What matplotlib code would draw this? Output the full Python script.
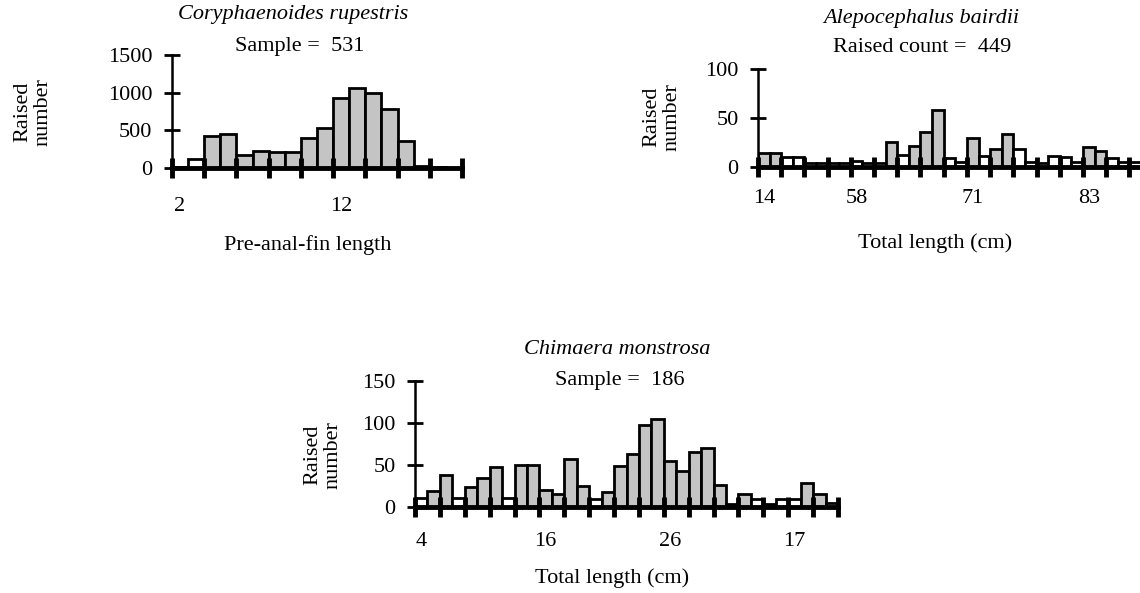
import matplotlib
matplotlib.use("Agg")
import matplotlib.pyplot as plt

W, H = 1140, 593

# Coryphaenoides rupestris
p1_values = [15, 120, 430, 445, 170, 230, 215, 215, 395, 535, 935, 1060, 990, 780, 355, 30, 10, 5]
p1_shade = [0, 0, 1, 1, 1, 1, 1, 1, 1, 1, 1, 1, 1, 1, 1, 0, 0, 0]
p1_labels = ["2", "12"]
p1_label_pos = [0, 10]
p1_yticks = [0, 500, 1000, 1500]

# Alepocephalus bairdii
p2_values = [14, 14, 10, 10, 4, 4, 4, 4, 6, 4, 4, 26, 12, 21, 36, 58, 9,
             5, 30, 11, 18, 34, 18, 5, 4, 11, 10, 5, 20, 16, 9, 5, 5]
p2_shade = [1, 1, 0, 0, 0, 0, 0, 0, 0, 0, 0, 1, 0, 1, 1, 1, 0,
            0, 1, 0, 1, 1, 0, 0, 0, 0, 0, 0, 1, 1, 0, 0, 0]
p2_labels = ["14", "58", "71", "83"]
p2_label_pos = [0, 8, 18, 28]
p2_yticks = [0, 50, 100]

# Chimaera monstrosa
p3_values = [11, 19, 38, 11, 24, 35, 48, 11, 50, 50, 20, 15, 57, 25, 10, 18, 49,
             63, 98, 105, 55, 43, 66, 70, 26, 4, 15, 10, 4, 10, 10, 29, 15, 5]
p3_shade = [0, 1, 1, 0, 1, 1, 1, 0, 1, 1, 1, 1, 1, 1, 0, 1, 1,
            1, 1, 1, 1, 1, 1, 1, 1, 0, 1, 0, 0, 0, 0, 1, 1, 0]
p3_labels = ["4", "16", "26", "17"]
p3_label_pos = [0, 10, 20, 30]
p3_yticks = [0, 50, 100, 150]

plt.rcParams['font.family'] = ['Liberation Serif', 'DejaVu Serif']
plt.rcParams['font.size'] = 16

fig = plt.figure(figsize=(W / 100, H / 100), dpi=100)


def px_axes(left, right, top, bottom):
    # pixel box -> figure fraction
    return fig.add_axes([left / W, 1 - bottom / H, (right - left) / W, (bottom - top) / H])


def ftext(x, y, s, **kw):
    fig.text(x / W, 1 - y / H, s, ha="center", va="center", **kw)


def panel(ax, values, shade, labels, label_pos, yticks, xpad):
    n = len(values)
    colors = ["#c4c4c4" if s else "white" for s in shade]
    ax.bar(range(n), values, width=1.0, align="edge", color=colors,
           edgecolor="black", linewidth=2)
    ax.set_xlim(0, n)
    ax.set_ylim(0, yticks[-1])
    ax.set_yticks(yticks)
    ax.set_xticks(range(0, n + 1, 2))
    ax.set_xticklabels([])
    ax.set_xticks([p + 0.5 for p in label_pos], labels, minor=True)
    ax.tick_params(axis="x", which="major", direction="inout", length=14, width=3.5)
    ax.tick_params(axis="x", which="minor", length=0, pad=xpad)
    ax.tick_params(axis="y", direction="inout", length=12, width=2, pad=8)
    for s in ["top", "right"]:
        ax.spines[s].set_visible(False)
    ax.spines["left"].set_linewidth(1.8)
    ax.spines["bottom"].set_linewidth(3.5)
    ax.set_facecolor("none")


ax1 = px_axes(172, 462, 55, 168)
panel(ax1, p1_values, p1_shade, p1_labels, p1_label_pos, p1_yticks, 21)
ax2 = px_axes(758, 1141, 69, 167)
panel(ax2, p2_values, p2_shade, p2_labels, p2_label_pos, p2_yticks, 16)
ax3 = px_axes(415, 838, 381, 507)
panel(ax3, p3_values, p3_shade, p3_labels, p3_label_pos, p3_yticks, 18)

# titles, axis names
ftext(293, 15, "Coryphaenoides rupestris", style="italic")
ftext(300, 47, "Sample =  531")
ftext(308, 245, "Pre-anal-fin length")
ftext(33, 112, "Raised\nnumber", rotation=90, linespacing=1.05)

ftext(921, 19, "Alepocephalus bairdii", style="italic")
ftext(922, 48, "Raised count =  449")
ftext(935, 243, "Total length (cm)")
ftext(662, 117, "Raised\nnumber", rotation=90, linespacing=1.05)

ftext(617, 350, "Chimaera monstrosa", style="italic")
ftext(620, 381, "Sample =  186")
ftext(612, 578, "Total length (cm)")
ftext(323, 455, "Raised\nnumber", rotation=90, linespacing=1.05)

fig.savefig("out.png", dpi=100)
